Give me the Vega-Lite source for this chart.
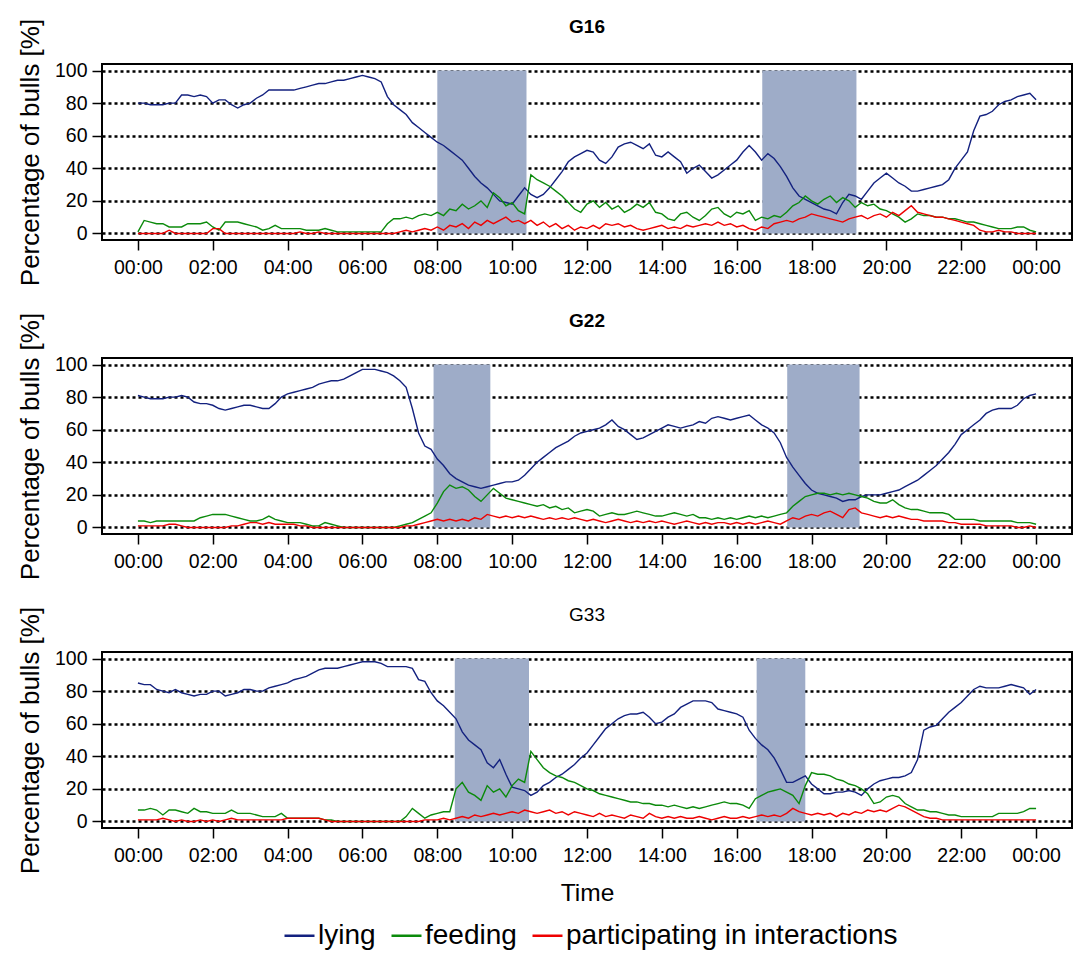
{
"$schema":"https://vega.github.io/schema/vega-lite/v6.json",
"background":"white",
"padding":{"left":16,"top":17,"right":12,"bottom":0},
"bounds":"flush",
"spacing":118,
"config":{
 "font":"Liberation Sans",
 "view":{"stroke":"black","strokeWidth":2},
 "axis":{"labelColor":"black","labelFont":"Liberation Sans","labelFontSize":19.5,"tickColor":"black","tickWidth":1.5,"tickSize":10,"domain":false,"titleColor":"black","titleFontWeight":"normal","titleFont":"Liberation Sans"},
 "axisX":{"grid":false,"labelPadding":8,"titleFontSize":24.5,"titlePadding":17},
 "axisY":{"grid":true,"gridColor":"black","gridDash":[3,3],"gridWidth":2.4,"labelPadding":5,"titleFontSize":26,"titlePadding":11,"zindex":1},
 "title":{"font":"Liberation Sans","fontSize":19,"fontWeight":"bold","color":"black","offset":-19,"anchor":"middle"}
},
"datasets":{
"shade":[{"g":"G16","a":480,"b":623},{"g":"G16","a":1001,"b":1152},{"g":"G22","a":474,"b":565},{"g":"G22","a":1041,"b":1157},{"g":"G33","a":508,"b":627},{"g":"G33","a":992,"b":1070}],
"G16":[
{"t":0,"l":80,"f":1,"i":0},{"t":10,"l":80,"f":8,"i":0},{"t":20,"l":79,"f":7,"i":0},{"t":30,"l":79,"f":6,"i":0},{"t":40,"l":79,"f":6,"i":0},{"t":50,"l":80,"f":4,"i":2},{"t":60,"l":80,"f":4,"i":0},{"t":70,"l":85,"f":4,"i":0},{"t":80,"l":85,"f":6,"i":0},{"t":90,"l":84,"f":6,"i":0},{"t":100,"l":85,"f":6,"i":0},{"t":110,"l":84,"f":7,"i":0},{"t":120,"l":80,"f":4,"i":3},{"t":130,"l":82,"f":2,"i":3},{"t":140,"l":82,"f":7,"i":0},{"t":150,"l":79,"f":7,"i":0},{"t":160,"l":77,"f":7,"i":0},{"t":170,"l":79,"f":6,"i":0},{"t":180,"l":80,"f":5,"i":0},{"t":190,"l":83,"f":4,"i":0},{"t":200,"l":85,"f":2,"i":0},{"t":210,"l":88,"f":3,"i":0},{"t":220,"l":88,"f":5,"i":0},{"t":230,"l":88,"f":3,"i":0},{"t":240,"l":88,"f":3,"i":0},{"t":250,"l":88,"f":3,"i":0},{"t":260,"l":89,"f":3,"i":1},{"t":270,"l":90,"f":2,"i":0},{"t":280,"l":91,"f":2,"i":0},{"t":290,"l":92,"f":2,"i":1},{"t":300,"l":92,"f":3,"i":0},{"t":310,"l":93,"f":2,"i":0},{"t":320,"l":94,"f":1,"i":0},{"t":330,"l":94,"f":1,"i":0},{"t":340,"l":95,"f":1,"i":0},{"t":350,"l":96,"f":1,"i":0},{"t":360,"l":97,"f":1,"i":0},{"t":370,"l":96,"f":1,"i":0},{"t":380,"l":95,"f":1,"i":0},{"t":390,"l":93,"f":1,"i":0},{"t":400,"l":84,"f":6,"i":0},{"t":410,"l":79,"f":9,"i":0},{"t":420,"l":76,"f":9,"i":1},{"t":430,"l":73,"f":10,"i":2},{"t":440,"l":68,"f":9,"i":1},{"t":450,"l":65,"f":11,"i":2},{"t":460,"l":62,"f":12,"i":3},{"t":470,"l":59,"f":11,"i":2},{"t":480,"l":56,"f":13,"i":4},{"t":490,"l":54,"f":11,"i":2},{"t":500,"l":51,"f":15,"i":5},{"t":510,"l":48,"f":14,"i":4},{"t":520,"l":45,"f":18,"i":6},{"t":530,"l":40,"f":15,"i":3},{"t":540,"l":35,"f":17,"i":7},{"t":550,"l":31,"f":20,"i":5},{"t":560,"l":28,"f":16,"i":8},{"t":570,"l":24,"f":25,"i":6},{"t":580,"l":20,"f":22,"i":8},{"t":590,"l":19,"f":17,"i":10},{"t":600,"l":18,"f":19,"i":7},{"t":610,"l":23,"f":14,"i":8},{"t":620,"l":28,"f":12,"i":6},{"t":630,"l":24,"f":36,"i":8},{"t":640,"l":22,"f":33,"i":5},{"t":650,"l":24,"f":31,"i":7},{"t":660,"l":28,"f":29,"i":4},{"t":670,"l":33,"f":26,"i":6},{"t":680,"l":38,"f":23,"i":3},{"t":690,"l":44,"f":19,"i":5},{"t":700,"l":47,"f":15,"i":2},{"t":710,"l":49,"f":13,"i":4},{"t":720,"l":51,"f":18,"i":3},{"t":730,"l":50,"f":20,"i":5},{"t":740,"l":45,"f":16,"i":3},{"t":750,"l":43,"f":19,"i":6},{"t":760,"l":47,"f":15,"i":5},{"t":770,"l":53,"f":17,"i":6},{"t":780,"l":55,"f":13,"i":4},{"t":790,"l":56,"f":15,"i":5},{"t":800,"l":54,"f":18,"i":3},{"t":810,"l":52,"f":16,"i":2},{"t":820,"l":55,"f":19,"i":3},{"t":830,"l":48,"f":13,"i":4},{"t":840,"l":47,"f":12,"i":5},{"t":850,"l":50,"f":9,"i":3},{"t":860,"l":47,"f":8,"i":4},{"t":870,"l":44,"f":12,"i":3},{"t":880,"l":37,"f":13,"i":5},{"t":890,"l":40,"f":10,"i":4},{"t":900,"l":42,"f":8,"i":5},{"t":910,"l":38,"f":11,"i":6},{"t":920,"l":34,"f":15,"i":5},{"t":930,"l":36,"f":16,"i":7},{"t":940,"l":39,"f":12,"i":5},{"t":950,"l":42,"f":10,"i":6},{"t":960,"l":45,"f":13,"i":4},{"t":970,"l":50,"f":12,"i":5},{"t":980,"l":54,"f":14,"i":3},{"t":990,"l":50,"f":8,"i":2},{"t":1000,"l":45,"f":10,"i":4},{"t":1010,"l":49,"f":9,"i":3},{"t":1020,"l":46,"f":11,"i":6},{"t":1030,"l":41,"f":10,"i":7},{"t":1040,"l":35,"f":13,"i":8},{"t":1050,"l":28,"f":17,"i":7},{"t":1060,"l":23,"f":19,"i":9},{"t":1070,"l":21,"f":23,"i":10},{"t":1080,"l":19,"f":20,"i":12},{"t":1090,"l":17,"f":18,"i":11},{"t":1100,"l":15,"f":21,"i":10},{"t":1110,"l":14,"f":23,"i":9},{"t":1120,"l":12,"f":19,"i":8},{"t":1130,"l":19,"f":22,"i":7},{"t":1140,"l":24,"f":20,"i":9},{"t":1150,"l":23,"f":16,"i":10},{"t":1160,"l":21,"f":19,"i":11},{"t":1170,"l":26,"f":17,"i":9},{"t":1180,"l":31,"f":18,"i":11},{"t":1190,"l":34,"f":15,"i":12},{"t":1200,"l":37,"f":14,"i":10},{"t":1210,"l":34,"f":12,"i":13},{"t":1220,"l":31,"f":10,"i":11},{"t":1230,"l":29,"f":7,"i":14},{"t":1240,"l":26,"f":9,"i":17},{"t":1250,"l":26,"f":12,"i":13},{"t":1260,"l":27,"f":11,"i":12},{"t":1270,"l":28,"f":11,"i":11},{"t":1280,"l":29,"f":10,"i":10},{"t":1290,"l":30,"f":10,"i":10},{"t":1300,"l":33,"f":9,"i":9},{"t":1310,"l":40,"f":9,"i":8},{"t":1320,"l":45,"f":8,"i":7},{"t":1330,"l":50,"f":7,"i":6},{"t":1340,"l":63,"f":7,"i":5},{"t":1350,"l":72,"f":6,"i":2},{"t":1360,"l":73,"f":5,"i":1},{"t":1370,"l":75,"f":4,"i":1},{"t":1380,"l":79,"f":3,"i":2},{"t":1390,"l":81,"f":3,"i":1},{"t":1400,"l":82,"f":3,"i":1},{"t":1410,"l":84,"f":4,"i":0},{"t":1420,"l":85,"f":4,"i":0},{"t":1430,"l":86,"f":2,"i":0},{"t":1440,"l":82,"f":1,"i":0}],
"G22":[
{"t":0,"l":81,"f":4,"i":1},{"t":10,"l":80,"f":4,"i":1},{"t":20,"l":79,"f":3,"i":1},{"t":30,"l":79,"f":4,"i":1},{"t":40,"l":79,"f":4,"i":1},{"t":50,"l":80,"f":4,"i":2},{"t":60,"l":80,"f":4,"i":2},{"t":70,"l":81,"f":4,"i":1},{"t":80,"l":80,"f":4,"i":0},{"t":90,"l":77,"f":4,"i":0},{"t":100,"l":76,"f":6,"i":0},{"t":110,"l":76,"f":7,"i":0},{"t":120,"l":75,"f":8,"i":0},{"t":130,"l":73,"f":8,"i":0},{"t":140,"l":72,"f":8,"i":0},{"t":150,"l":73,"f":7,"i":1},{"t":160,"l":74,"f":6,"i":1},{"t":170,"l":75,"f":5,"i":2},{"t":180,"l":75,"f":4,"i":3},{"t":190,"l":74,"f":4,"i":3},{"t":200,"l":73,"f":5,"i":2},{"t":210,"l":73,"f":7,"i":3},{"t":220,"l":76,"f":5,"i":2},{"t":230,"l":80,"f":4,"i":2},{"t":240,"l":82,"f":3,"i":2},{"t":250,"l":83,"f":3,"i":2},{"t":260,"l":84,"f":3,"i":1},{"t":270,"l":85,"f":2,"i":1},{"t":280,"l":86,"f":1,"i":0},{"t":290,"l":88,"f":1,"i":0},{"t":300,"l":89,"f":3,"i":0},{"t":310,"l":90,"f":2,"i":0},{"t":320,"l":90,"f":1,"i":0},{"t":330,"l":91,"f":0,"i":0},{"t":340,"l":93,"f":0,"i":0},{"t":350,"l":95,"f":0,"i":0},{"t":360,"l":97,"f":0,"i":0},{"t":370,"l":97,"f":0,"i":0},{"t":380,"l":97,"f":0,"i":0},{"t":390,"l":96,"f":0,"i":0},{"t":400,"l":95,"f":0,"i":0},{"t":410,"l":93,"f":0,"i":0},{"t":420,"l":90,"f":1,"i":0},{"t":430,"l":86,"f":2,"i":1},{"t":440,"l":73,"f":3,"i":1},{"t":450,"l":58,"f":5,"i":2},{"t":460,"l":50,"f":7,"i":3},{"t":470,"l":48,"f":9,"i":4},{"t":480,"l":42,"f":15,"i":5},{"t":490,"l":38,"f":22,"i":4},{"t":500,"l":33,"f":26,"i":5},{"t":510,"l":30,"f":24,"i":4},{"t":520,"l":28,"f":25,"i":5},{"t":530,"l":26,"f":23,"i":4},{"t":540,"l":25,"f":19,"i":6},{"t":550,"l":24,"f":16,"i":5},{"t":560,"l":25,"f":20,"i":8},{"t":570,"l":26,"f":24,"i":7},{"t":580,"l":27,"f":21,"i":6},{"t":590,"l":28,"f":18,"i":7},{"t":600,"l":28,"f":17,"i":6},{"t":610,"l":29,"f":16,"i":7},{"t":620,"l":32,"f":15,"i":6},{"t":630,"l":36,"f":14,"i":7},{"t":640,"l":40,"f":13,"i":6},{"t":650,"l":43,"f":14,"i":5},{"t":660,"l":46,"f":12,"i":6},{"t":670,"l":49,"f":13,"i":5},{"t":680,"l":51,"f":11,"i":6},{"t":690,"l":53,"f":12,"i":5},{"t":700,"l":56,"f":9,"i":6},{"t":710,"l":58,"f":10,"i":5},{"t":720,"l":59,"f":11,"i":4},{"t":730,"l":60,"f":10,"i":5},{"t":740,"l":61,"f":7,"i":4},{"t":750,"l":63,"f":8,"i":3},{"t":760,"l":66,"f":9,"i":4},{"t":770,"l":62,"f":8,"i":5},{"t":780,"l":60,"f":8,"i":4},{"t":790,"l":57,"f":9,"i":3},{"t":800,"l":54,"f":10,"i":4},{"t":810,"l":55,"f":9,"i":3},{"t":820,"l":57,"f":8,"i":4},{"t":830,"l":59,"f":7,"i":3},{"t":840,"l":61,"f":7,"i":4},{"t":850,"l":63,"f":8,"i":3},{"t":860,"l":62,"f":9,"i":2},{"t":870,"l":61,"f":8,"i":3},{"t":880,"l":62,"f":7,"i":4},{"t":890,"l":63,"f":8,"i":3},{"t":900,"l":65,"f":6,"i":2},{"t":910,"l":64,"f":6,"i":3},{"t":920,"l":67,"f":5,"i":2},{"t":930,"l":68,"f":6,"i":3},{"t":940,"l":67,"f":5,"i":3},{"t":950,"l":66,"f":6,"i":2},{"t":960,"l":67,"f":5,"i":3},{"t":970,"l":68,"f":6,"i":2},{"t":980,"l":69,"f":7,"i":3},{"t":990,"l":66,"f":6,"i":2},{"t":1000,"l":63,"f":7,"i":3},{"t":1010,"l":61,"f":6,"i":4},{"t":1020,"l":58,"f":7,"i":3},{"t":1030,"l":52,"f":8,"i":2},{"t":1040,"l":43,"f":9,"i":4},{"t":1050,"l":37,"f":13,"i":6},{"t":1060,"l":32,"f":16,"i":5},{"t":1070,"l":27,"f":19,"i":7},{"t":1080,"l":23,"f":20,"i":8},{"t":1090,"l":21,"f":21,"i":7},{"t":1100,"l":20,"f":21,"i":9},{"t":1110,"l":19,"f":20,"i":10},{"t":1120,"l":18,"f":21,"i":8},{"t":1130,"l":16,"f":20,"i":6},{"t":1140,"l":17,"f":21,"i":11},{"t":1150,"l":17,"f":20,"i":12},{"t":1160,"l":19,"f":19,"i":9},{"t":1170,"l":20,"f":18,"i":8},{"t":1180,"l":20,"f":16,"i":7},{"t":1190,"l":20,"f":15,"i":6},{"t":1200,"l":21,"f":15,"i":7},{"t":1210,"l":22,"f":17,"i":6},{"t":1220,"l":23,"f":14,"i":7},{"t":1230,"l":25,"f":12,"i":6},{"t":1240,"l":27,"f":11,"i":5},{"t":1250,"l":29,"f":11,"i":5},{"t":1260,"l":32,"f":10,"i":4},{"t":1270,"l":35,"f":9,"i":4},{"t":1280,"l":38,"f":9,"i":4},{"t":1290,"l":42,"f":9,"i":4},{"t":1300,"l":46,"f":8,"i":3},{"t":1310,"l":51,"f":5,"i":3},{"t":1320,"l":57,"f":5,"i":2},{"t":1330,"l":60,"f":5,"i":2},{"t":1340,"l":63,"f":5,"i":2},{"t":1350,"l":66,"f":4,"i":2},{"t":1360,"l":70,"f":4,"i":1},{"t":1370,"l":72,"f":4,"i":1},{"t":1380,"l":73,"f":4,"i":1},{"t":1390,"l":73,"f":4,"i":1},{"t":1400,"l":73,"f":4,"i":1},{"t":1410,"l":75,"f":3,"i":0},{"t":1420,"l":79,"f":3,"i":0},{"t":1430,"l":81,"f":3,"i":1},{"t":1440,"l":82,"f":2,"i":0}],
"G33":[
{"t":0,"l":85,"f":7,"i":1},{"t":10,"l":84,"f":7,"i":1},{"t":20,"l":84,"f":8,"i":1},{"t":30,"l":81,"f":7,"i":1},{"t":40,"l":80,"f":4,"i":2},{"t":50,"l":79,"f":7,"i":1},{"t":60,"l":81,"f":7,"i":0},{"t":70,"l":79,"f":6,"i":1},{"t":80,"l":78,"f":5,"i":0},{"t":90,"l":77,"f":8,"i":0},{"t":100,"l":78,"f":6,"i":1},{"t":110,"l":78,"f":6,"i":0},{"t":120,"l":80,"f":5,"i":1},{"t":130,"l":80,"f":5,"i":0},{"t":140,"l":77,"f":5,"i":1},{"t":150,"l":78,"f":7,"i":2},{"t":160,"l":79,"f":5,"i":1},{"t":170,"l":81,"f":5,"i":1},{"t":180,"l":81,"f":5,"i":1},{"t":190,"l":80,"f":4,"i":1},{"t":200,"l":80,"f":3,"i":1},{"t":210,"l":82,"f":3,"i":1},{"t":220,"l":83,"f":3,"i":1},{"t":230,"l":84,"f":5,"i":1},{"t":240,"l":85,"f":2,"i":2},{"t":250,"l":87,"f":2,"i":2},{"t":260,"l":88,"f":2,"i":2},{"t":270,"l":89,"f":2,"i":2},{"t":280,"l":91,"f":2,"i":2},{"t":290,"l":93,"f":2,"i":2},{"t":300,"l":94,"f":1,"i":1},{"t":310,"l":94,"f":1,"i":0},{"t":320,"l":94,"f":0,"i":0},{"t":330,"l":95,"f":0,"i":0},{"t":340,"l":96,"f":0,"i":0},{"t":350,"l":97,"f":0,"i":0},{"t":360,"l":98,"f":0,"i":0},{"t":370,"l":98,"f":0,"i":0},{"t":380,"l":98,"f":0,"i":0},{"t":390,"l":97,"f":0,"i":0},{"t":400,"l":95,"f":0,"i":0},{"t":410,"l":95,"f":0,"i":0},{"t":420,"l":95,"f":0,"i":0},{"t":430,"l":95,"f":3,"i":0},{"t":440,"l":94,"f":8,"i":0},{"t":450,"l":87,"f":5,"i":0},{"t":460,"l":86,"f":2,"i":1},{"t":470,"l":79,"f":4,"i":1},{"t":480,"l":74,"f":5,"i":1},{"t":490,"l":71,"f":6,"i":2},{"t":500,"l":67,"f":6,"i":1},{"t":510,"l":63,"f":20,"i":2},{"t":520,"l":55,"f":24,"i":3},{"t":530,"l":50,"f":18,"i":2},{"t":540,"l":47,"f":16,"i":4},{"t":550,"l":44,"f":13,"i":3},{"t":560,"l":36,"f":22,"i":4},{"t":570,"l":33,"f":18,"i":5},{"t":580,"l":38,"f":20,"i":4},{"t":590,"l":29,"f":15,"i":5},{"t":600,"l":21,"f":22,"i":6},{"t":610,"l":20,"f":26,"i":5},{"t":620,"l":19,"f":24,"i":7},{"t":630,"l":16,"f":43,"i":6},{"t":640,"l":18,"f":38,"i":5},{"t":650,"l":22,"f":33,"i":6},{"t":660,"l":24,"f":30,"i":7},{"t":670,"l":27,"f":28,"i":5},{"t":680,"l":29,"f":27,"i":6},{"t":690,"l":32,"f":25,"i":4},{"t":700,"l":35,"f":24,"i":6},{"t":710,"l":39,"f":22,"i":5},{"t":720,"l":42,"f":20,"i":4},{"t":730,"l":47,"f":19,"i":3},{"t":740,"l":52,"f":17,"i":5},{"t":750,"l":57,"f":16,"i":3},{"t":760,"l":60,"f":15,"i":4},{"t":770,"l":63,"f":14,"i":3},{"t":780,"l":65,"f":13,"i":2},{"t":790,"l":66,"f":12,"i":4},{"t":800,"l":66,"f":12,"i":3},{"t":810,"l":67,"f":11,"i":2},{"t":820,"l":64,"f":11,"i":5},{"t":830,"l":60,"f":10,"i":3},{"t":840,"l":61,"f":10,"i":2},{"t":850,"l":64,"f":9,"i":3},{"t":860,"l":66,"f":10,"i":2},{"t":870,"l":70,"f":9,"i":3},{"t":880,"l":72,"f":8,"i":2},{"t":890,"l":74,"f":9,"i":2},{"t":900,"l":74,"f":8,"i":3},{"t":910,"l":74,"f":9,"i":2},{"t":920,"l":73,"f":10,"i":1},{"t":930,"l":69,"f":11,"i":2},{"t":940,"l":68,"f":12,"i":3},{"t":950,"l":67,"f":11,"i":2},{"t":960,"l":66,"f":11,"i":2},{"t":970,"l":64,"f":10,"i":3},{"t":980,"l":56,"f":8,"i":2},{"t":990,"l":51,"f":14,"i":3},{"t":1000,"l":47,"f":16,"i":4},{"t":1010,"l":44,"f":18,"i":3},{"t":1020,"l":39,"f":19,"i":4},{"t":1030,"l":32,"f":20,"i":3},{"t":1040,"l":24,"f":18,"i":5},{"t":1050,"l":24,"f":16,"i":8},{"t":1060,"l":26,"f":11,"i":6},{"t":1070,"l":28,"f":22,"i":5},{"t":1080,"l":23,"f":30,"i":4},{"t":1090,"l":20,"f":29,"i":5},{"t":1100,"l":17,"f":29,"i":4},{"t":1110,"l":17,"f":28,"i":5},{"t":1120,"l":18,"f":26,"i":3},{"t":1130,"l":18,"f":25,"i":5},{"t":1140,"l":19,"f":23,"i":4},{"t":1150,"l":18,"f":22,"i":6},{"t":1160,"l":16,"f":20,"i":5},{"t":1170,"l":20,"f":17,"i":7},{"t":1180,"l":23,"f":11,"i":6},{"t":1190,"l":25,"f":12,"i":7},{"t":1200,"l":26,"f":15,"i":6},{"t":1210,"l":27,"f":16,"i":8},{"t":1220,"l":27,"f":15,"i":10},{"t":1230,"l":28,"f":11,"i":9},{"t":1240,"l":30,"f":9,"i":7},{"t":1250,"l":38,"f":7,"i":5},{"t":1260,"l":56,"f":7,"i":3},{"t":1270,"l":58,"f":6,"i":2},{"t":1280,"l":59,"f":6,"i":2},{"t":1290,"l":63,"f":5,"i":1},{"t":1300,"l":67,"f":4,"i":1},{"t":1310,"l":70,"f":4,"i":1},{"t":1320,"l":73,"f":3,"i":1},{"t":1330,"l":77,"f":3,"i":1},{"t":1340,"l":81,"f":3,"i":1},{"t":1350,"l":83,"f":3,"i":1},{"t":1360,"l":82,"f":3,"i":1},{"t":1370,"l":82,"f":3,"i":1},{"t":1380,"l":82,"f":5,"i":1},{"t":1390,"l":83,"f":5,"i":1},{"t":1400,"l":84,"f":5,"i":1},{"t":1410,"l":83,"f":5,"i":1},{"t":1420,"l":82,"f":6,"i":1},{"t":1430,"l":78,"f":8,"i":1},{"t":1440,"l":81,"f":8,"i":1}]
},
"vconcat":[
{"title":{"text":"G16"},"width":970,"height":176,"layer":[
 {"data":{"name":"shade"},"transform":[{"filter":"datum.g == 'G16'"}],"mark":{"type":"rect","color":"#9eacc8"},
  "encoding":{"x":{"field":"a","type":"quantitative","scale":{"domain":[-57.6,1497.6],"nice":false},"title":null,"axis":{"values":[0,120,240,360,480,600,720,840,960,1080,1200,1320,1440],"labelExpr":"(floor(datum.value/60)%24<10?'0':'')+(floor(datum.value/60)%24)+':00'"}},"x2":{"field":"b"},
   "y":{"datum":0,"type":"quantitative","scale":{"domain":[-4,104],"nice":false,"zero":false},"title":"Percentage of bulls [%]","axis":{"values":[0,20,40,60,80,100]}},"y2":{"datum":100}}},
 {"data":{"name":"G16"},"transform":[{"fold":["l","f","i"],"as":["s","v"]}],"mark":{"type":"line","strokeWidth":1.4},
  "encoding":{"x":{"field":"t","type":"quantitative","scale":{"domain":[-57.6,1497.6],"nice":false},"title":null,"axis":{"values":[0,120,240,360,480,600,720,840,960,1080,1200,1320,1440],"labelExpr":"(floor(datum.value/60)%24<10?'0':'')+(floor(datum.value/60)%24)+':00'"}},
   "y":{"field":"v","type":"quantitative","scale":{"domain":[-4,104],"nice":false,"zero":false},"title":"Percentage of bulls [%]","axis":{"values":[0,20,40,60,80,100]}},
   "color":{"field":"s","type":"nominal","sort":null,"scale":{"domain":["l","f","i"],"range":["#13217f","#0b8a0b","#ee0000"]},"legend":{"orient":"none","legendX":181,"legendY":855,"direction":"horizontal","title":null,"symbolType":"stroke","symbolSize":900,"symbolStrokeWidth":2.5,"labelFontSize":28,"labelColor":"black","labelFont":"Liberation Sans","labelOffset":2,"columnPadding":10,"labelLimit":600,"labelExpr":"datum.value=='l'?'lying':datum.value=='f'?'feeding':'participating in interactions'"}}}}
]},
{"title":{"text":"G22"},"width":970,"height":176,"layer":[
 {"data":{"name":"shade"},"transform":[{"filter":"datum.g == 'G22'"}],"mark":{"type":"rect","color":"#9eacc8"},
  "encoding":{"x":{"field":"a","type":"quantitative","scale":{"domain":[-57.6,1497.6],"nice":false},"title":null,"axis":{"values":[0,120,240,360,480,600,720,840,960,1080,1200,1320,1440],"labelExpr":"(floor(datum.value/60)%24<10?'0':'')+(floor(datum.value/60)%24)+':00'"}},"x2":{"field":"b"},
   "y":{"datum":0,"type":"quantitative","scale":{"domain":[-4,104],"nice":false,"zero":false},"title":"Percentage of bulls [%]","axis":{"values":[0,20,40,60,80,100]}},"y2":{"datum":100}}},
 {"data":{"name":"G22"},"transform":[{"fold":["l","f","i"],"as":["s","v"]}],"mark":{"type":"line","strokeWidth":1.4},
  "encoding":{"x":{"field":"t","type":"quantitative","scale":{"domain":[-57.6,1497.6],"nice":false},"title":null,"axis":{"values":[0,120,240,360,480,600,720,840,960,1080,1200,1320,1440],"labelExpr":"(floor(datum.value/60)%24<10?'0':'')+(floor(datum.value/60)%24)+':00'"}},
   "y":{"field":"v","type":"quantitative","scale":{"domain":[-4,104],"nice":false,"zero":false},"title":"Percentage of bulls [%]","axis":{"values":[0,20,40,60,80,100]}},
   "color":{"field":"s","type":"nominal","sort":null,"scale":{"domain":["l","f","i"],"range":["#13217f","#0b8a0b","#ee0000"]},"legend":{"orient":"none","legendX":181,"legendY":855,"direction":"horizontal","title":null,"symbolType":"stroke","symbolSize":900,"symbolStrokeWidth":2.5,"labelFontSize":28,"labelColor":"black","labelFont":"Liberation Sans","labelOffset":2,"columnPadding":10,"labelLimit":600,"labelExpr":"datum.value=='l'?'lying':datum.value=='f'?'feeding':'participating in interactions'"}}}}
]},
{"title":{"text":"G33","fontWeight":"normal"},"width":970,"height":176,"layer":[
 {"data":{"name":"shade"},"transform":[{"filter":"datum.g == 'G33'"}],"mark":{"type":"rect","color":"#9eacc8"},
  "encoding":{"x":{"field":"a","type":"quantitative","scale":{"domain":[-57.6,1497.6],"nice":false},"title":"Time","axis":{"values":[0,120,240,360,480,600,720,840,960,1080,1200,1320,1440],"labelExpr":"(floor(datum.value/60)%24<10?'0':'')+(floor(datum.value/60)%24)+':00'"}},"x2":{"field":"b"},
   "y":{"datum":0,"type":"quantitative","scale":{"domain":[-4,104],"nice":false,"zero":false},"title":"Percentage of bulls [%]","axis":{"values":[0,20,40,60,80,100]}},"y2":{"datum":100}}},
 {"data":{"name":"G33"},"transform":[{"fold":["l","f","i"],"as":["s","v"]}],"mark":{"type":"line","strokeWidth":1.4},
  "encoding":{"x":{"field":"t","type":"quantitative","scale":{"domain":[-57.6,1497.6],"nice":false},"title":"Time","axis":{"values":[0,120,240,360,480,600,720,840,960,1080,1200,1320,1440],"labelExpr":"(floor(datum.value/60)%24<10?'0':'')+(floor(datum.value/60)%24)+':00'"}},
   "y":{"field":"v","type":"quantitative","scale":{"domain":[-4,104],"nice":false,"zero":false},"title":"Percentage of bulls [%]","axis":{"values":[0,20,40,60,80,100]}},
   "color":{"field":"s","type":"nominal","sort":null,"scale":{"domain":["l","f","i"],"range":["#13217f","#0b8a0b","#ee0000"]},"legend":{"orient":"none","legendX":181,"legendY":855,"direction":"horizontal","title":null,"symbolType":"stroke","symbolSize":900,"symbolStrokeWidth":2.5,"labelFontSize":28,"labelColor":"black","labelFont":"Liberation Sans","labelOffset":2,"columnPadding":10,"labelLimit":600,"labelExpr":"datum.value=='l'?'lying':datum.value=='f'?'feeding':'participating in interactions'"}}}}
]}
]
}
